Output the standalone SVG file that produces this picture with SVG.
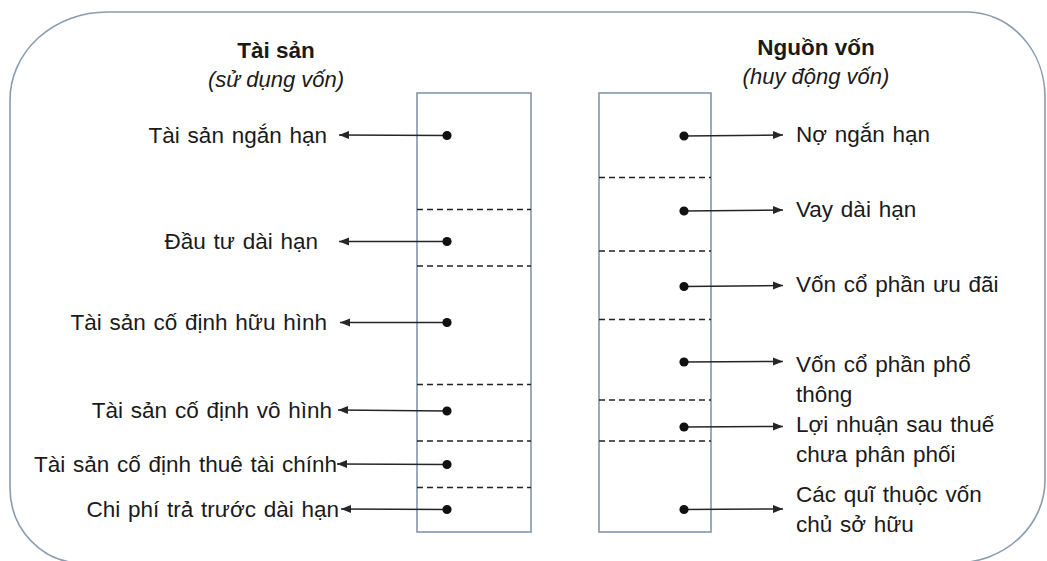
<svg xmlns="http://www.w3.org/2000/svg" width="1047" height="561" viewBox="0 0 1047 561">
  <style>
    .frame { fill: none; stroke: #8a9bb0; stroke-width: 1.6; }
    .col { fill: #ffffff; stroke: #8496ab; stroke-width: 1.6; }
    .split { stroke: #222222; stroke-width: 1.3; stroke-dasharray: 6 4; }
    .link { stroke: #262626; stroke-width: 1.5; fill: none; marker-start: url(#dot); marker-end: url(#head); }
    text { font-family: "Liberation Sans", Arial, sans-serif; fill: #1a1a1a; }
    .title { font-size: 22.5px; font-weight: bold; text-anchor: middle; }
    .sub { font-size: 22px; font-style: italic; text-anchor: middle; }
    .lbl { font-size: 22.5px; word-spacing: 1.5px; }
    .lbl-l { text-anchor: end; }
  </style>
  <defs>
    <marker id="head" markerUnits="userSpaceOnUse" markerWidth="11" markerHeight="9" refX="10" refY="4.5" orient="auto">
      <path d="M0,0.5 L10,4.5 L0,8.5 Z" fill="#262626"/>
    </marker>
    <marker id="dot" markerUnits="userSpaceOnUse" markerWidth="11" markerHeight="11" refX="5.5" refY="5.5" orient="auto">
      <circle cx="5.5" cy="5.5" r="4.6" fill="#111111"/>
    </marker>
  </defs>

  <rect width="1047" height="561" fill="#ffffff"/>

  <!-- rounded outer frame -->
  <path class="frame" d="M10,100 A97,88 0 0 1 107,12 L968,12 A78,85 0 0 1 1045,97 L1045,480 A90,83 0 0 1 956,563 L82,563 A72,75 0 0 1 10,488 Z"/>

  <!-- headings -->
  <g id="heading-assets">
    <text class="title" x="276" y="58">Tài sản</text>
    <text class="sub" x="276" y="87">(sử dụng vốn)</text>
  </g>
  <g id="heading-sources">
    <text class="title" x="816" y="55">Nguồn vốn</text>
    <text class="sub" x="816" y="84">(huy động vốn)</text>
  </g>

  <!-- asset column -->
  <g id="column-assets">
    <rect class="col" x="417" y="93" width="114" height="439"/>
    <line class="split" x1="417" y1="209.5" x2="531" y2="209.5"/>
    <line class="split" x1="417" y1="266" x2="531" y2="266"/>
    <line class="split" x1="417" y1="384.5" x2="531" y2="384.5"/>
    <line class="split" x1="417" y1="441" x2="531" y2="441"/>
    <line class="split" x1="417" y1="487.5" x2="531" y2="487.5"/>
  </g>

  <!-- source column -->
  <g id="column-sources">
    <rect class="col" x="599" y="93" width="112" height="439"/>
    <line class="split" x1="599" y1="177.5" x2="711" y2="177.5"/>
    <line class="split" x1="599" y1="251" x2="711" y2="251"/>
    <line class="split" x1="599" y1="319.5" x2="711" y2="319.5"/>
    <line class="split" x1="599" y1="400" x2="711" y2="400"/>
    <line class="split" x1="599" y1="441" x2="711" y2="441"/>
  </g>

  <!-- asset labels -->
  <g id="label-short-term-assets"><text class="lbl lbl-l" x="327" y="143">Tài sản ngắn hạn</text></g>
  <g id="label-long-term-investment"><text class="lbl lbl-l" x="318" y="249">Đầu tư dài hạn</text></g>
  <g id="label-tangible-assets"><text class="lbl lbl-l" x="327" y="330">Tài sản cố định hữu hình</text></g>
  <g id="label-intangible-assets"><text class="lbl lbl-l" x="332" y="418">Tài sản cố định vô hình</text></g>
  <g id="label-finance-lease"><text class="lbl lbl-l" x="337" y="471.5">Tài sản cố định thuê tài chính</text></g>
  <g id="label-prepaid"><text class="lbl lbl-l" x="339" y="517">Chi phí trả trước dài hạn</text></g>

  <!-- source labels -->
  <g id="label-short-term-debt"><text class="lbl" x="796" y="142">Nợ ngắn hạn</text></g>
  <g id="label-long-term-loans"><text class="lbl" x="796" y="217">Vay dài hạn</text></g>
  <g id="label-preferred-stock"><text class="lbl" x="796" y="292">Vốn cổ phần ưu đãi</text></g>
  <g id="label-common-stock">
    <text class="lbl" x="796" y="371.5">Vốn cổ phần phổ</text>
    <text class="lbl" x="796" y="401.5">thông</text>
  </g>
  <g id="label-retained-earnings">
    <text class="lbl" x="796" y="431.5">Lợi nhuận sau thuế</text>
    <text class="lbl" x="796" y="462">chưa phân phối</text>
  </g>
  <g id="label-equity-funds">
    <text class="lbl" x="796" y="502">Các quĩ thuộc vốn</text>
    <text class="lbl" x="796" y="531.5">chủ sở hữu</text>
  </g>

  <!-- connectors: dot inside column, arrow out to label -->
  <g id="connectors">
    <line class="link" x1="447" y1="135.5" x2="339" y2="135"/>
    <line class="link" x1="447" y1="241.5" x2="339" y2="241.5"/>
    <line class="link" x1="447" y1="322.5" x2="340" y2="322.5"/>
    <line class="link" x1="447" y1="411" x2="338" y2="410"/>
    <line class="link" x1="447" y1="464.5" x2="337" y2="464"/>
    <line class="link" x1="447" y1="509.5" x2="341" y2="509"/>

    <line class="link" x1="684" y1="136" x2="783" y2="135"/>
    <line class="link" x1="684" y1="211" x2="783" y2="210"/>
    <line class="link" x1="684" y1="286.5" x2="783" y2="285.5"/>
    <line class="link" x1="684" y1="362" x2="783" y2="361.5"/>
    <line class="link" x1="684" y1="427" x2="783" y2="426.5"/>
    <line class="link" x1="684" y1="509.5" x2="783" y2="509"/>
  </g>
</svg>
